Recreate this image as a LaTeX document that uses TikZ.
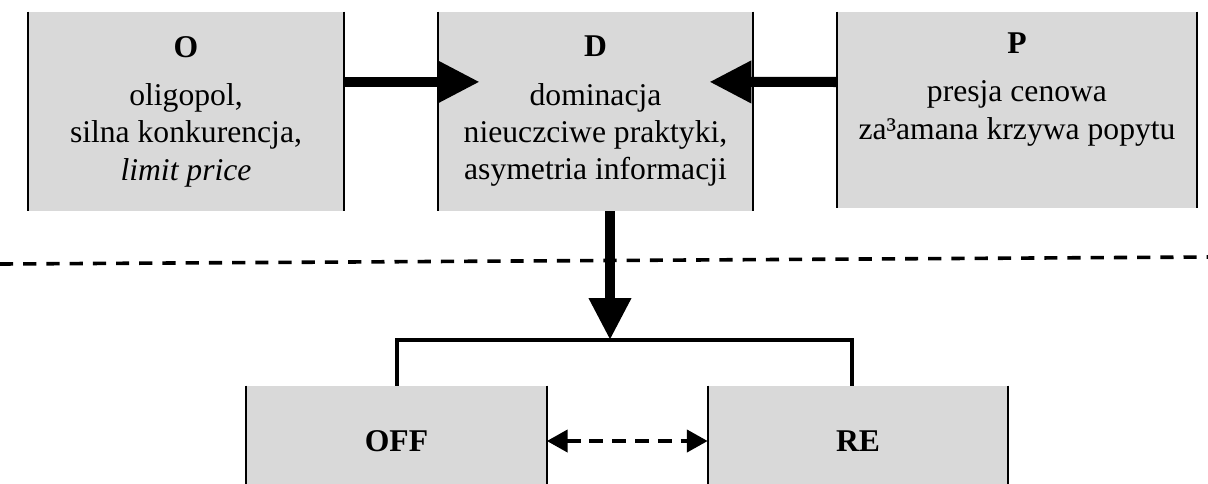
\documentclass[tikz,border=0pt]{standalone}
\usepackage{fontspec}
\setmainfont{Liberation Serif}
\usetikzlibrary{arrows.meta}
\definecolor{panelgray}{gray}{0.85}
\tikzset{
  panel/.style={
    rectangle,
    fill=panelgray,
    align=center,
    inner sep=0pt,
    minimum height=4.975cm,
    font=\fontsize{22.5}{26.5}\selectfont
  },
  smallpanel/.style={
    rectangle,
    fill=panelgray,
    align=center,
    inner sep=0pt,
    minimum width=7.5cm,
    minimum height=2.75cm,
    font=\fontsize{22.5}{26.5}\selectfont\bfseries
  },
  side/.style={line width=0.05cm},
  bigarrow/.style={-{Triangle[length=1.05cm,width=1cm]}, line width=0.25cm},
  bracket/.style={line width=0.1cm},
  dualarrow/.style={{Triangle[length=0.52cm,width=0.55cm]}-{Triangle[length=0.52cm,width=0.55cm]}, line width=0.1cm, dash pattern=on 0.35cm off 0.22cm},
  divider/.style={line width=0.09cm, dash pattern=on 0.33cm off 0.25cm}
}
\begin{document}
\begin{tikzpicture}[x=0.025cm, y=-0.025cm]
\useasboundingbox (0,0) rectangle (1208,483);
\node[panel, minimum width=7.9cm] (o) at (186,111.5) {\textbf{O}\\[8pt]oligopol,\\silna konkurencja,\\\textit{limit price}};
\node[panel, minimum width=7.875cm] (d) at (595.5,111.5) {\textbf{D}\\[8pt]dominacja\\nieuczciwe praktyki,\\asymetria informacji};
\node[panel, minimum width=9cm, minimum height=4.9cm] (p) at (1017,110) {\textbf{P}\\[8pt]presja cenowa\\za³amana krzywa popytu\\\strut};
\node[smallpanel] (off) at (396.5,441) {OFF};
\node[smallpanel] (re) at (858,441) {RE};

% only the side edges of each panel are drawn
\foreach \n in {o,d,p,off,re}
  \draw[side] (\n.north west) -- (\n.south west) (\n.north east) -- (\n.south east);

\draw[bigarrow] ([yshift=0.74cm]o.east) -- ([xshift=1.05cm,yshift=0.74cm]d.west);
\draw[bigarrow] ([yshift=0.7cm]p.west) -- ([xshift=-1.1cm,yshift=0.74cm]d.east);

\coordinate (split) at (610,340);
\draw[bigarrow] (d.south -| split) -- (split);
\draw[bracket] (off.north) |- (split) -| ([xshift=-0.15cm]re.north);
\draw[dualarrow] (off) -- (re);

\draw[divider] (0,264) -- (1208,257);
\end{tikzpicture}
\end{document}
